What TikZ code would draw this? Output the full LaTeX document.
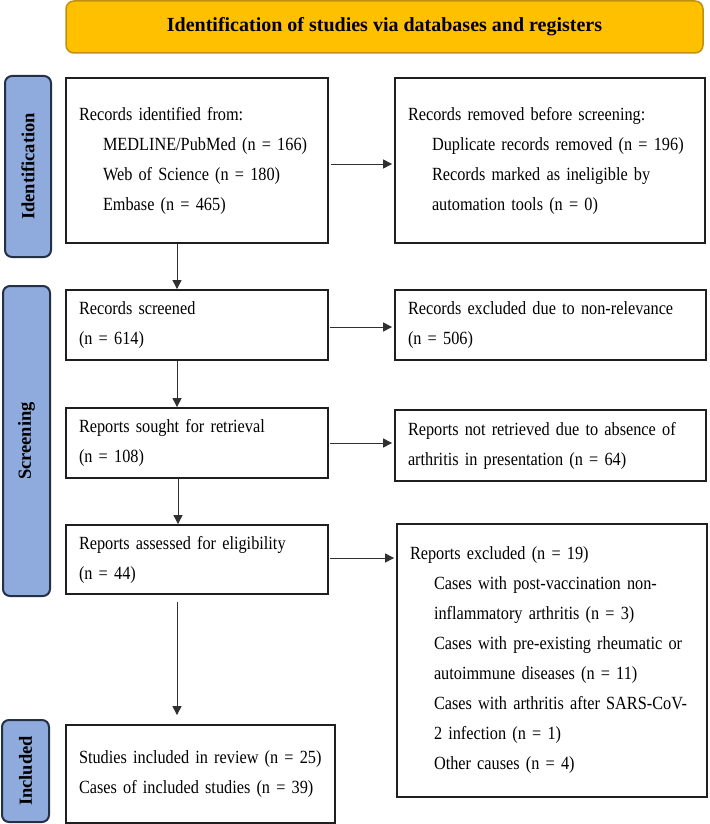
\documentclass[tikz,border=0pt]{standalone}
\usepackage{fontspec}
\setmainfont{Liberation Serif}
\newfontfamily\bodyfont{Liberation Serif}[FakeStretch=0.875]
\usetikzlibrary{arrows.meta}
\definecolor{bannerfill}{HTML}{FFC000}
\definecolor{bannerdraw}{HTML}{C09010}
\definecolor{labfill}{HTML}{8FAADC}
\definecolor{labdraw}{HTML}{243044}
\definecolor{linegray}{HTML}{303030}
\newcommand\myln[1]{\mbox{#1}}
\newcommand\myiln[1]{\hspace*{24pt}\mbox{#1}}
\begin{document}
\begin{tikzpicture}[x=1pt,y=-1pt,
  box/.style={draw=black!88, line width=1.8pt, fill=white, inner xsep=13pt, inner ysep=0pt,
    align=left, font=\bodyfont\fontsize{18.6}{30}\selectfont},
  banner/.style={draw=bannerdraw, fill=bannerfill, line width=1.5pt, rounded corners=8pt,
    inner sep=0pt, font=\fontsize{20}{24}\selectfont\bfseries},
  sidelab/.style={draw=labdraw, fill=labfill, line width=2pt, rounded corners=7pt, rotate=90,
    inner sep=0pt, font=\fontsize{18.5}{22}\selectfont\bfseries},
  arr/.style={draw=linegray, line width=1pt, -{Triangle[length=9pt,width=9pt]}}]
\useasboundingbox (0,0) rectangle (709,824);

% banner
\node[banner, minimum width=637pt, minimum height=52pt] (banner) at (384.5,27) {Identification of studies via databases and registers};

% side labels
\node[sidelab, minimum width=181pt, minimum height=46pt] (idlab) at (28,166.5) {Identification};
\node[sidelab, minimum width=310pt, minimum height=47pt] (scrlab) at (26.5,441) {Screening};
\node[sidelab, minimum width=102pt, minimum height=47pt] (inclab) at (25.5,771) {Included};

% left column
\node[box, minimum width=262pt, text width=236pt, minimum height=165pt] (id) at (197,160.5)
  {\myln{Records identified from:}\\
   \myiln{MEDLINE/PubMed (n = 166)}\\
   \myiln{Web of Science (n = 180)}\\
   \myiln{Embase (n = 465)}};
\node[box, minimum width=262pt, text width=236pt, minimum height=70pt] (scr) at (197,325)
  {\myln{Records screened}\\\myln{(n = 614)}};
\node[box, minimum width=262pt, text width=236pt, minimum height=70pt] (sought) at (197,443)
  {\myln{Reports sought for retrieval}\\\myln{(n = 108)}};
\node[box, minimum width=262pt, text width=236pt, minimum height=69pt] (assess) at (197,559.5)
  {\myln{Reports assessed for eligibility}\\\myln{(n = 44)}};
\node[box, minimum width=269pt, text width=243pt, minimum height=98pt] (inc) at (200.5,774)
  {\myln{Studies included in review (n = 25)}\\\myln{Cases of included studies (n = 39)}};

% right column
\node[box, minimum width=310pt, text width=284pt, minimum height=165pt] (rem) at (550,160.5)
  {\myln{Records removed before screening:}\\
   \myiln{Duplicate records removed (n = 196)}\\
   \myiln{Records marked as ineligible by}\\
   \myiln{automation tools (n = 0)}};
\node[box, minimum width=311pt, text width=285pt, minimum height=70pt] (exc1) at (550.5,325)
  {\myln{Records excluded due to non-relevance}\\\myln{(n = 506)}};
\node[box, minimum width=311pt, text width=285pt, minimum height=71pt] (notret) at (550.5,445.5)
  {\myln{Reports not retrieved due to absence of}\\\myln{arthritis in presentation (n = 64)}};
\node[box, minimum width=310pt, text width=284pt, minimum height=273pt] (exc2) at (552,660.5)
  {\myln{Reports excluded (n = 19)}\\
   \myiln{Cases with post-vaccination non-}\\
   \myiln{inflammatory arthritis (n = 3)}\\
   \myiln{Cases with pre-existing rheumatic or}\\
   \myiln{autoimmune diseases (n = 11)}\\
   \myiln{Cases with arthritis after SARS-CoV-}\\
   \myiln{2 infection (n = 1)}\\
   \myiln{Other causes (n = 4)}};

% horizontal arrows
\draw[arr, shorten <=2pt, shorten >=2pt] ([yshift=-3.5pt]id.east) -- ([yshift=-3.5pt]id.east -| rem.west);
\draw[arr, shorten <=1pt, shorten >=2pt] ([yshift=-2pt]scr.east) -- ([yshift=-2pt]scr.east -| exc1.west);
\draw[arr, shorten <=1pt, shorten >=2pt] (sought.east) -- (sought.east -| notret.west);
\draw[arr, shorten <=1pt, shorten >=2pt] ([yshift=1.5pt]assess.east) -- ([yshift=1.5pt]assess.east -| exc2.west);

% vertical arrows
\draw[arr] ([xshift=-20pt]id.south) -- ([xshift=-20pt]id.south |- scr.north);
\draw[arr] ([xshift=-20pt]scr.south) -- ([xshift=-20pt]scr.south |- sought.north);
\draw[arr] ([xshift=-19pt]sought.south) -- ([xshift=-19pt]sought.south |- assess.north);
\draw[arr, shorten <=7pt, shorten >=9pt] ([xshift=-20pt]assess.south) -- ([xshift=-20pt]assess.south |- inc.north);
\end{tikzpicture}
\end{document}
